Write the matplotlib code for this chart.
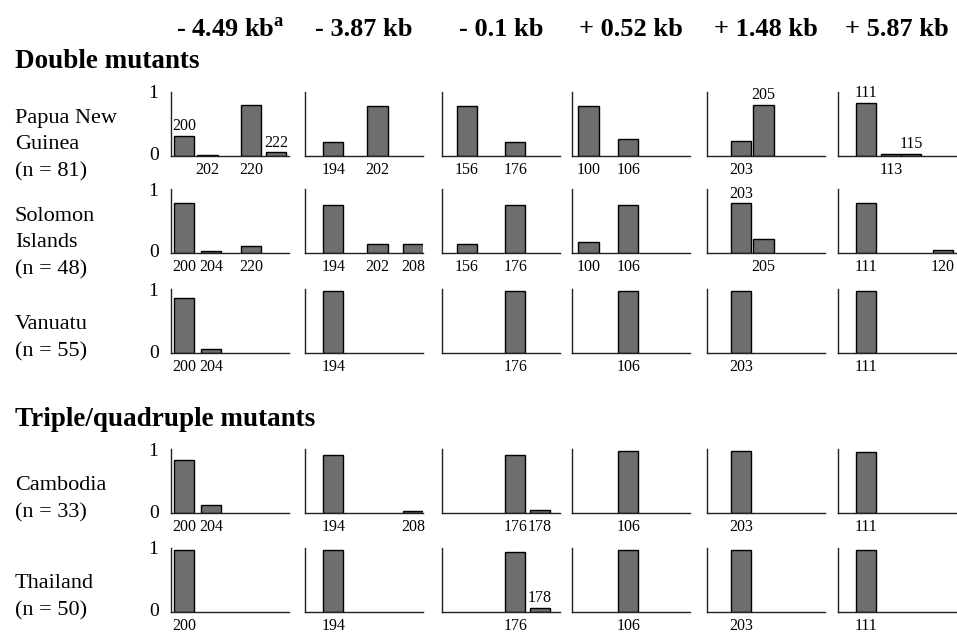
import matplotlib
matplotlib.use("Agg")
import matplotlib.pyplot as plt

plt.rcParams['font.family'] = ['Liberation Serif', 'DejaVu Serif']
plt.rcParams['mathtext.fontset'] = 'custom'
plt.rcParams['mathtext.rm'] = 'Liberation Serif'
plt.rcParams['mathtext.bf'] = 'Liberation Serif:bold'

# column titles (distance of the microsatellite locus from dhfr)
loci = ['- 4.49 kb$^{\\mathbf{a}}$', '- 3.87 kb', '- 0.1 kb', '+ 0.52 kb', '+ 1.48 kb', '+ 5.87 kb']

populations = ['Papua New\nGuinea\n(n = 81)', 'Solomon\nIslands\n(n = 48)', 'Vanuatu\n(n = 55)',
               'Cambodia\n(n = 33)', 'Thailand\n(n = 50)']

# allele sizes and frequencies, one list per locus
png_alleles = [[200, 202, 220, 222], [194, 202], [156, 176], [100, 106], [203, 205], [111, 113, 115]]
png_freqs = [[0.33, 0.02, 0.83, 0.06], [0.23, 0.81], [0.81, 0.23], [0.81, 0.27], [0.25, 0.83], [0.86, 0.04, 0.04]]

sol_alleles = [[200, 204, 220], [194, 202, 208], [156, 176], [100, 106], [203, 205], [111, 120]]
sol_freqs = [[0.80, 0.03, 0.11], [0.78, 0.14, 0.14], [0.14, 0.78], [0.17, 0.78], [0.80, 0.23], [0.80, 0.05]]

van_alleles = [[200, 204], [194], [176], [106], [203], [111]]
van_freqs = [[0.89, 0.06], [1.0], [1.0], [1.0], [1.0], [1.0]]

cam_alleles = [[200, 204], [194, 208], [176, 178], [106], [203], [111]]
cam_freqs = [[0.85, 0.13], [0.93, 0.03], [0.93, 0.05], [1.0], [1.0], [0.98]]

tha_alleles = [[200], [194], [176, 178], [106], [203], [111]]
tha_freqs = [[1.0], [1.0], [0.97, 0.07], [1.0], [1.0], [1.0]]

all_alleles = [png_alleles, sol_alleles, van_alleles, cam_alleles, tha_alleles]
all_freqs = [png_freqs, sol_freqs, van_freqs, cam_freqs, tha_freqs]

# where each allele sits inside its panel (x from 0 to 5)
slot = [{200: 0.55, 202: 1.55, 204: 1.7, 220: 3.4, 222: 4.45},
        {194: 1.2, 202: 3.07, 208: 4.6},
        {156: 1.05, 176: 3.1, 178: 4.15},
        {100: 0.7, 106: 2.38},
        {203: 1.45, 205: 2.4},
        {111: 1.2, 113: 2.25, 115: 3.1, 120: 4.45}]

# labels drawn above the bar instead of below: (row, col, allele)
above = [(0, 0, 200), (0, 0, 222), (0, 4, 205), (0, 5, 111), (0, 5, 115), (1, 4, 203), (4, 2, 178)]

W, H = 957, 633
fig = plt.figure(figsize=(W / 100, H / 100), dpi=100)

col_left = [171, 305, 442, 572, 707, 838]
row_base = [156, 253, 353, 513, 612]
pw, ph = 118, 64
unit = 62  # pixels for frequency 1

bar_color = '#6e6e6e'

for r in range(5):
    for c in range(6):
        ax = fig.add_axes([col_left[c] / W, (H - row_base[r]) / H, pw / W, ph / H])
        ax.set_xlim(0, 5)
        ax.set_ylim(0, ph / unit)
        for s in ['top', 'right']:
            ax.spines[s].set_visible(False)
        for s in ['left', 'bottom']:
            ax.spines[s].set_linewidth(1.0)
            ax.spines[s].set_color('#222222')
        ax.set_xticks([])
        ax.set_yticks([])
        ax.patch.set_alpha(0)

        xs = [slot[c][a] for a in all_alleles[r][c]]
        ax.bar(xs, all_freqs[r][c], width=0.86, color=bar_color, edgecolor='black', linewidth=1.0)

        for a, x, f in zip(all_alleles[r][c], xs, all_freqs[r][c]):
            if (r, c, a) in above:
                ax.annotate(str(a), xy=(x, f), xytext=(0, 1), textcoords='offset points',
                            ha='center', va='bottom', fontsize=11.5)
            else:
                ax.annotate(str(a), xy=(x, 0), xytext=(0, -4), textcoords='offset points',
                            ha='center', va='top', fontsize=11.5)

        if c == 0:
            for v in [0, 1]:
                ax.annotate(str(v), xy=(0, v), xycoords=('axes fraction', 'data'), xytext=(-9, 0),
                            textcoords='offset points', ha='right', va='center', fontsize=14)

# column titles
for c in range(6):
    fig.text((col_left[c] + pw / 2) / W, 1 - 30 / H, loci[c], ha='center', va='center',
             fontsize=19, fontweight='bold')

# section headers
fig.text(15 / W, 1 - 62 / H, 'Double mutants', ha='left', va='center', fontsize=19.5, fontweight='bold')
fig.text(15 / W, 1 - 420 / H, 'Triple/quadruple mutants', ha='left', va='center', fontsize=19.5,
         fontweight='bold')

# population labels
label_mid = [145, 243, 338, 499, 597]
for r in range(5):
    fig.text(15 / W, 1 - label_mid[r] / H, populations[r], ha='left', va='center', fontsize=16,
             linespacing=1.55)

fig.savefig('out.png', dpi=100, facecolor='white')
